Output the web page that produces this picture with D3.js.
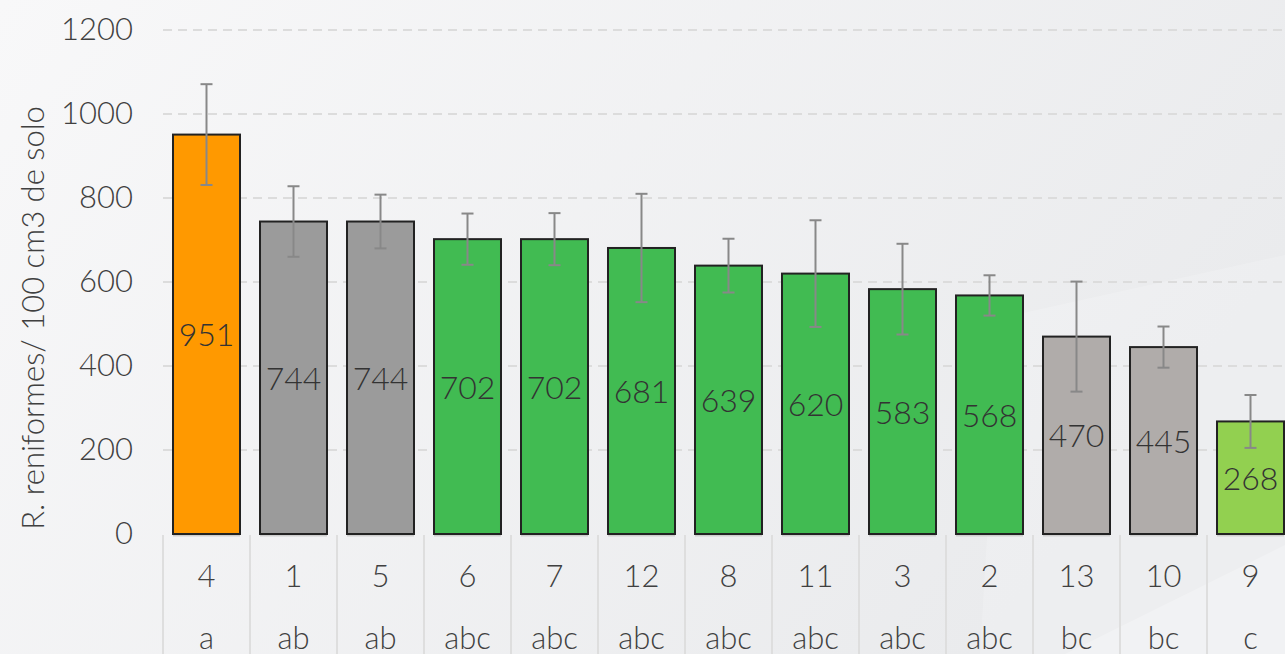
<!DOCTYPE html>
<html>
<head>
<meta charset="utf-8">
<script src="https://cdn.jsdelivr.net/npm/d3@7"></script>
<style>
  html, body { margin: 0; padding: 0; }
  svg { display: block; font-family: Lato, "Open Sans", sans-serif; font-weight: 300; }
</style>
</head>
<body>
<svg width="1285" height="654"></svg>
<script>
// data
var categories = ["4", "1", "5", "6", "7", "12", "8", "11", "3", "2", "13", "10", "9"];
var groups = ["a", "ab", "ab", "abc", "abc", "abc", "abc", "abc", "abc", "abc", "bc", "bc", "c"];
var values = [951, 744, 744, 702, 702, 681, 639, 620, 583, 568, 470, 445, 268];
var errors = [120, 84, 64, 61, 62, 129, 64, 127, 108, 48, 131, 49, 63];
var barColors = ["#ff9900", "#9b9b9b", "#9b9b9b", "#41bb52", "#41bb52", "#41bb52", "#41bb52",
                 "#41bb52", "#41bb52", "#41bb52", "#b0acaa", "#b0acaa", "#92d050"];
var yTicks = [0, 200, 400, 600, 800, 1000, 1200];

var svg = d3.select("svg"),
    W = +svg.attr("width"),
    H = +svg.attr("height"),
    margin = {top: 30, left: 163, bottom: 120};

// background
var defs = svg.append("defs");
var grad = defs.append("linearGradient").attr("id", "bg")
    .attr("x1", "0").attr("y1", "0").attr("x2", "1").attr("y2", "0.4");
grad.append("stop").attr("offset", "0%").attr("stop-color", "#f8f8f9");
grad.append("stop").attr("offset", "100%").attr("stop-color", "#eaebed");
svg.append("rect").attr("width", W).attr("height", H).attr("fill", "url(#bg)");
svg.append("path").attr("d", "M1285,255 L1000,318 L980,654 L1285,654 Z")
    .attr("fill", "#ffffff").attr("opacity", 0.18);
svg.append("path").attr("d", "M1285,545 L1065,654 L1285,654 Z")
    .attr("fill", "#ffffff").attr("opacity", 0.25);

var x = d3.scaleBand()
    .domain(categories)
    .range([margin.left, margin.left + 13 * 87])
    .paddingInner(0.23)
    .paddingOuter(0.115);

var y = d3.scaleLinear()
    .domain([0, 1200])
    .range([534, margin.top]);

// gridlines
svg.append("g").selectAll("line")
    .data(yTicks.filter(d => d > 0))
    .enter().append("line")
    .attr("x1", margin.left).attr("x2", W)
    .attr("y1", d => y(d)).attr("y2", d => y(d))
    .attr("stroke", "#dcdcdc")
    .attr("stroke-width", 2)
    .attr("stroke-dasharray", "9,6");

// y axis labels
var yAxis = svg.append("g")
    .attr("transform", "translate(133,0)")
    .call(d3.axisLeft(y).tickValues(yTicks).tickFormat(d3.format("d")).tickSize(0).tickPadding(0));
yAxis.select(".domain").remove();
yAxis.selectAll("text")
    .style("font-size", "31px")
    .style("font-family", "Lato, sans-serif")
    .style("font-weight", 300)
    .attr("fill", "#404040");

// y title
svg.append("text")
    .attr("transform", "translate(44,318) rotate(-90)")
    .attr("text-anchor", "middle")
    .style("font-size", "31px")
    .attr("fill", "#404040")
    .text("R. reniformes/ 100 cm3 de solo");

// category table below the bars
var step = x.step();
var cells = svg.append("g");
cells.selectAll("line")
    .data(d3.range(categories.length + 1))
    .enter().append("line")
    .attr("x1", i => margin.left + i * step)
    .attr("x2", i => margin.left + i * step)
    .attr("y1", 535).attr("y2", H)
    .attr("stroke", "#dedede")
    .attr("stroke-width", 2);

svg.append("g").selectAll("text")
    .data(categories)
    .enter().append("text")
    .attr("x", d => x(d) + x.bandwidth() / 2)
    .attr("y", 587)
    .attr("text-anchor", "middle")
    .style("font-size", "31px")
    .attr("fill", "#404040")
    .text(d => d);

svg.append("g").selectAll("text")
    .data(categories)
    .enter().append("text")
    .attr("x", d => x(d) + x.bandwidth() / 2)
    .attr("y", 649)
    .attr("text-anchor", "middle")
    .style("font-size", "31px")
    .attr("fill", "#404040")
    .text((d, i) => groups[i]);

// bars
var bars = svg.append("g").selectAll("g")
    .data(categories)
    .enter().append("g");

bars.append("line")
    .attr("x1", d => x(d)).attr("x2", d => x(d) + x.bandwidth())
    .attr("y1", 535.5).attr("y2", 535.5)
    .attr("stroke", "#cfcfcf").attr("stroke-width", 2);

bars.append("rect")
    .attr("x", d => x(d))
    .attr("y", (d, i) => y(values[i]))
    .attr("width", x.bandwidth())
    .attr("height", (d, i) => y(0) - y(values[i]))
    .attr("fill", (d, i) => barColors[i])
    .attr("stroke", "#222")
    .attr("stroke-width", 2);

// value labels in middle of bars
bars.append("text")
    .attr("x", d => x(d) + x.bandwidth() / 2)
    .attr("y", (d, i) => (y(values[i]) + y(0)) / 2 + 12)
    .attr("text-anchor", "middle")
    .style("font-size", "32px")
    .attr("fill", "#333")
    .text((d, i) => values[i]);

// error bars
var cx = d => x(d) + x.bandwidth() / 2;
bars.append("line")
    .attr("x1", cx).attr("x2", cx)
    .attr("y1", (d, i) => y(values[i] + errors[i]))
    .attr("y2", (d, i) => y(values[i] - errors[i]))
    .attr("stroke", "#888").attr("stroke-width", 2);
[1, -1].forEach(function(s) {
    bars.append("line")
        .attr("x1", d => cx(d) - 6).attr("x2", d => cx(d) + 6)
        .attr("y1", (d, i) => y(values[i] + s * errors[i]))
        .attr("y2", (d, i) => y(values[i] + s * errors[i]))
        .attr("stroke", "#888").attr("stroke-width", 2);
});
</script>
</body>
</html>
